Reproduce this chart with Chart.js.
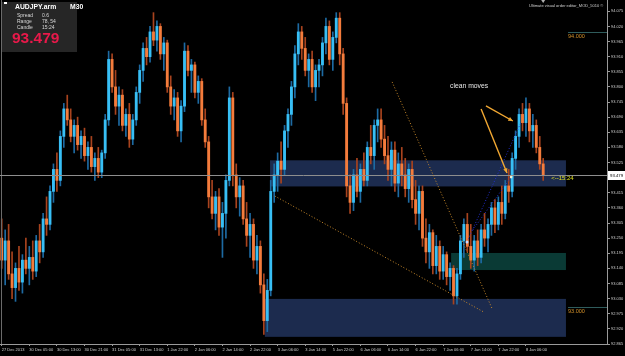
<!DOCTYPE html>
<html>
<head>
<meta charset="utf-8">
<script src="https://cdn.jsdelivr.net/npm/chart.js@4.4.1/dist/chart.umd.min.js"></script>
<style>
  html, body { margin: 0; padding: 0; background: #000; }
  #wrap { position: relative; width: 625px; height: 356px; background: #000; overflow: hidden; }
  #mt4 { position: absolute; left: 0; top: 0; }
  .t { position: absolute; white-space: nowrap; font-family: 'Liberation Sans', Arial, sans-serif; line-height: 1; }
</style>
</head>
<body>
<div id="wrap">
  <canvas id="mt4" width="625" height="356"></canvas>
  <div style="position:absolute;left:2px;top:2px;width:75px;height:50px;background:#262626;"></div>
  <div style="position:absolute;left:4px;top:2px;width:3px;height:2px;background:#fff;"></div>
  <div class="t" style="left:15px;top:4px;font-size:6.8px;font-weight:bold;color:#fff;">AUDJPY.arm</div>
  <div class="t" style="left:70px;top:4px;font-size:6.8px;font-weight:bold;color:#fff;">M30</div>
  <div class="t" style="left:17px;top:12.5px;font-size:5px;color:#d8d8d8;">Spread</div>
  <div class="t" style="left:42px;top:12.5px;font-size:5px;color:#d8d8d8;">0.6</div>
  <div class="t" style="left:17px;top:18.5px;font-size:5px;color:#d8d8d8;">Range</div>
  <div class="t" style="left:42px;top:18.5px;font-size:5px;color:#d8d8d8;">78, 54</div>
  <div class="t" style="left:17px;top:24.5px;font-size:5px;color:#d8d8d8;">Candle</div>
  <div class="t" style="left:42px;top:24.5px;font-size:5px;color:#d8d8d8;">15:24</div>
  <div class="t" style="left:12px;top:30px;font-size:15.5px;font-weight:bold;color:#e8194a;">93.479</div>
  <div class="t" style="left:450px;top:83px;font-size:6.8px;color:#e6e6e6;">clean moves</div>
  <div class="t" style="left:529px;top:4px;font-size:4px;color:#d0d0d0;">Ultimate visual order editor_MOD_5010 &copy;</div>
</div>
<script>
// AUDJPY.arm M30, 27 Dec 2013 - 8 Jan 2014 (one slot = two M30 bars)
const opens = [93.25,93.17,93.24,93.12,93.07,93.14,93.09,93.17,93.14,93.18,93.13,93.24,93.20,93.32,93.30,93.42,93.50,93.46,93.62,93.72,
  93.68,93.62,93.66,93.59,93.62,93.55,93.58,93.51,93.54,93.49,93.56,93.68,93.90,93.80,93.73,93.77,93.66,93.70,93.61,93.68,
  93.78,93.86,93.94,93.91,94.00,93.97,94.02,93.92,93.96,93.80,93.73,93.76,93.64,93.73,93.93,93.86,93.88,93.78,93.82,93.68,
  93.60,93.40,93.34,93.40,93.29,93.34,93.46,93.76,93.48,93.40,93.44,93.32,93.26,93.30,93.17,93.22,93.08,92.95,93.06,93.42,
  93.48,93.53,93.50,93.64,93.70,93.80,93.92,94.00,93.94,93.86,93.90,93.80,93.86,93.88,93.96,94.02,93.90,93.98,94.05,93.92,
  93.74,93.44,93.38,93.48,93.42,93.50,93.46,93.58,93.55,93.66,93.68,93.61,93.55,93.50,93.57,93.45,93.52,93.48,93.43,93.50,
  93.39,93.34,93.42,93.25,93.20,93.27,93.15,93.22,93.13,93.19,93.11,93.14,93.04,93.12,93.24,93.30,93.22,93.17,93.24,93.18,
  93.28,93.25,93.30,93.36,93.30,93.38,93.34,93.44,93.42,93.54,93.62,93.70,93.67,93.72,93.64,93.66,93.58,93.52];
const highs = [93.32,93.28,93.30,93.20,93.16,93.22,93.19,93.25,93.22,93.24,93.26,93.30,93.34,93.40,93.44,93.52,93.56,93.64,93.74,93.77,
  93.72,93.68,93.69,93.64,93.65,93.60,93.62,93.56,93.58,93.57,93.70,93.93,93.92,93.86,93.80,93.79,93.72,93.74,93.70,93.80,
  93.88,93.96,93.98,94.02,94.07,94.04,94.03,93.98,93.97,93.84,93.79,93.78,93.75,93.96,93.95,93.90,93.89,93.84,93.83,93.72,
  93.62,93.46,93.42,93.43,93.38,93.48,93.80,93.78,93.52,93.47,93.46,93.38,93.34,93.32,93.26,93.24,93.12,93.10,93.46,93.52,
  93.56,93.60,93.66,93.72,93.82,93.95,94.03,94.02,93.98,93.92,93.93,93.88,93.90,93.98,94.05,94.04,94.00,94.07,94.07,93.94,
  93.76,93.48,93.50,93.54,93.52,93.56,93.60,93.66,93.68,93.72,93.72,93.66,93.62,93.60,93.60,93.56,93.58,93.54,93.52,93.53,
  93.46,93.44,93.44,93.32,93.30,93.28,93.26,93.24,93.22,93.20,93.16,93.15,93.14,93.26,93.32,93.34,93.30,93.26,93.28,93.30,
  93.34,93.32,93.38,93.39,93.40,93.44,93.46,93.50,93.56,93.64,93.72,93.74,93.76,93.74,93.70,93.68,93.62,93.54];
const lows = [93.14,93.08,93.10,93.03,93.02,93.06,93.05,93.12,93.08,93.10,93.11,93.16,93.18,93.26,93.28,93.38,93.42,93.44,93.58,93.66,
  93.60,93.56,93.57,93.54,93.53,93.50,93.49,93.46,93.47,93.47,93.54,93.66,93.78,93.70,93.66,93.64,93.62,93.58,93.59,93.66,
  93.74,93.82,93.88,93.89,93.95,93.93,93.90,93.86,93.78,93.70,93.68,93.62,93.60,93.71,93.84,93.78,93.76,93.74,93.66,93.58,
  93.36,93.32,93.28,93.26,93.18,93.25,93.44,93.44,93.36,93.33,93.30,93.22,93.18,93.14,93.12,93.05,92.90,92.91,93.04,93.38,
  93.42,93.45,93.48,93.58,93.66,93.76,93.88,93.90,93.84,93.80,93.78,93.75,93.80,93.84,93.92,93.88,93.86,93.96,93.88,93.70,
  93.40,93.34,93.35,93.40,93.38,93.44,93.44,93.52,93.50,93.60,93.58,93.52,93.46,93.44,93.42,93.40,93.44,93.40,93.38,93.36,
  93.30,93.28,93.22,93.16,93.14,93.12,93.12,93.10,93.10,93.08,93.06,93.01,93.01,93.10,93.18,93.20,93.14,93.13,93.15,93.16,
  93.22,93.20,93.26,93.27,93.28,93.30,93.32,93.38,93.40,93.50,93.58,93.64,93.62,93.60,93.58,93.56,93.50,93.46];
const closes = [93.17,93.24,93.12,93.07,93.14,93.09,93.17,93.14,93.18,93.13,93.24,93.20,93.32,93.30,93.42,93.50,93.46,93.62,93.72,93.68,
  93.62,93.66,93.59,93.62,93.55,93.58,93.51,93.54,93.49,93.56,93.68,93.90,93.80,93.73,93.77,93.66,93.70,93.61,93.68,93.78,
  93.86,93.94,93.91,94.00,93.97,94.02,93.92,93.96,93.80,93.73,93.76,93.64,93.73,93.93,93.86,93.88,93.78,93.82,93.68,93.60,
  93.40,93.34,93.40,93.29,93.34,93.46,93.76,93.48,93.40,93.44,93.32,93.26,93.30,93.17,93.22,93.08,92.95,93.06,93.42,93.48,
  93.53,93.50,93.64,93.70,93.80,93.92,94.00,93.94,93.86,93.90,93.80,93.86,93.88,93.96,94.02,93.90,93.98,94.05,93.92,93.74,
  93.44,93.38,93.48,93.42,93.50,93.46,93.58,93.55,93.66,93.68,93.61,93.55,93.50,93.57,93.45,93.52,93.48,93.43,93.50,93.39,
  93.34,93.42,93.25,93.20,93.27,93.15,93.22,93.13,93.19,93.11,93.14,93.04,93.12,93.24,93.30,93.22,93.17,93.24,93.18,93.28,
  93.25,93.30,93.36,93.30,93.38,93.34,93.44,93.42,93.54,93.62,93.70,93.67,93.72,93.64,93.66,93.58,93.52,93.479];

const slotCount = 176;   // empty slots on the right = chart shift
const dateTickIdx = [0,8,16,24,32,40,48,56,64,72,80,88,96,104,112,120,128,136,144,152];
const dateTickText = ["27 Dec 2013","30 Dec 05:00","30 Dec 13:00","30 Dec 21:00","31 Dec 05:00","31 Dec 13:00",
  "1 Jan 22:00","2 Jan 06:00","2 Jan 14:00","2 Jan 22:00","3 Jan 06:00","3 Jan 14:00","5 Jan 22:00","6 Jan 06:00",
  "6 Jan 14:00","6 Jan 22:00","7 Jan 06:00","7 Jan 14:00","7 Jan 22:00","8 Jan 06:00"];
const priceTicks = [92.865,92.920,92.975,93.030,93.085,93.140,93.195,93.250,93.305,93.360,93.415,93.470,
  93.525,93.580,93.635,93.690,93.745,93.800,93.855,93.910,93.965,94.020,94.075];
const bidPrice = 93.479;
const candleTimer = "15:24";

// drawn objects, in (slot, price)
const zoneFrom = [77.8, 76.3, 130.3];
const zoneTo = [163.6, 163.6, 163.6];
const zoneHigh = [93.533, 93.029, 93.196];
const zoneLow = [93.438, 92.891, 93.134];
const levelPrices = [94.0, 93.0];
const levelText = ["94.000", "93.000"];
const levelFrom = 164.2;
const trendLines = [[79.2, 93.403, 139.8, 92.981], [113.2, 93.818, 142.1, 92.996]];
const blueLines = [[134.9, 93.236, 150.6, 93.672], [136.6, 93.280, 147.7, 93.472]];
const arrowLines = [[139.0, 93.720, 146.5, 93.487], [140.4, 93.731, 148.2, 93.676]];

const FONT = "'Liberation Sans', Arial, sans-serif";
const labels = [];
for (let i = 0; i < slotCount; i++) labels.push(i);
const wicks = lows.map((l, i) => [l, highs[i]]);
const bodies = opens.map((o, i) => [o, closes[i]]);
const isUp = i => closes[i] >= opens[i];

const overlay = {
  id: 'overlay',
  beforeDatasetsDraw(chart) {
    const { ctx, scales: { x, y } } = chart;
    const colors = ['#1c2b4e', '#1c2b4e', '#0a3a35'];
    ctx.save();
    zoneFrom.forEach((f, k) => {
      const x0 = x.getPixelForValue(f), x1 = x.getPixelForValue(zoneTo[k]);
      const y0 = y.getPixelForValue(zoneHigh[k]), y1 = y.getPixelForValue(zoneLow[k]);
      ctx.fillStyle = colors[k];
      ctx.fillRect(x0, y0, x1 - x0, y1 - y0);
    });
    ctx.restore();
  },
  afterDatasetsDraw(chart) {
    const { ctx, chartArea: a, scales: { x, y } } = chart;
    const X = v => x.getPixelForValue(v), Y = v => y.getPixelForValue(v);
    ctx.save();
    // left frame
    ctx.strokeStyle = '#6a6a6a';
    ctx.lineWidth = 1;
    ctx.beginPath(); ctx.moveTo(1.5, a.top); ctx.lineTo(1.5, a.bottom); ctx.stroke();
    // bid line
    ctx.strokeStyle = '#8e8e8e';
    ctx.beginPath(); ctx.moveTo(a.left, Math.round(Y(bidPrice)) + 0.5); ctx.lineTo(a.right, Math.round(Y(bidPrice)) + 0.5); ctx.stroke();
    // price levels
    levelPrices.forEach((p, k) => {
      const yy = Math.round(Y(p)) + 0.5;
      ctx.strokeStyle = '#2f5c5c';
      ctx.beginPath(); ctx.moveTo(X(levelFrom), yy); ctx.lineTo(a.right, yy); ctx.stroke();
      ctx.fillStyle = '#d4912a';
      ctx.font = '5.5px ' + FONT;
      ctx.textBaseline = 'top';
      ctx.fillText(levelText[k], X(levelFrom), yy + 1);
    });
    // dotted trend lines
    ctx.setLineDash([1, 2]);
    ctx.strokeStyle = '#c8892a';
    trendLines.forEach(l => {
      ctx.beginPath(); ctx.moveTo(X(l[0]), Y(l[1])); ctx.lineTo(X(l[2]), Y(l[3])); ctx.stroke();
    });
    ctx.strokeStyle = '#2430d0';
    blueLines.forEach(l => {
      ctx.beginPath(); ctx.moveTo(X(l[0]), Y(l[1])); ctx.lineTo(X(l[2]), Y(l[3])); ctx.stroke();
    });
    ctx.setLineDash([]);
    // small markers
    ctx.fillStyle = '#c8d8ff';
    ctx.beginPath(); ctx.arc(X(blueLines[0][0]), Y(blueLines[0][1]), 1.5, 0, Math.PI * 2); ctx.fill();
    ctx.fillStyle = '#f0f0d0';
    ctx.beginPath(); ctx.arc(X(blueLines[1][2]), Y(blueLines[1][3]), 1.3, 0, Math.PI * 2); ctx.fill();
    // arrows
    ctx.strokeStyle = '#f2a832';
    ctx.fillStyle = '#f2a832';
    ctx.lineWidth = 1.4;
    arrowLines.forEach(l => {
      const x0 = X(l[0]), y0 = Y(l[1]), x1 = X(l[2]), y1 = Y(l[3]);
      const ang = Math.atan2(y1 - y0, x1 - x0);
      ctx.beginPath(); ctx.moveTo(x0, y0); ctx.lineTo(x1, y1); ctx.stroke();
      ctx.beginPath();
      ctx.moveTo(x1, y1);
      ctx.lineTo(x1 - 5 * Math.cos(ang - 0.45), y1 - 5 * Math.sin(ang - 0.45));
      ctx.lineTo(x1 - 5 * Math.cos(ang + 0.45), y1 - 5 * Math.sin(ang + 0.45));
      ctx.closePath(); ctx.fill();
    });
    // candle timer
    ctx.fillStyle = '#e0e020';
    ctx.font = '6px ' + FONT;
    ctx.textBaseline = 'middle';
    ctx.fillText('<--' + candleTimer, X(closes.length + 1.3), Y(bidPrice) + 3);
    // chart shift marker
    ctx.fillStyle = '#b0b0b0';
    const sx = X(closes.length - 1);
    ctx.beginPath(); ctx.moveTo(sx - 2, 0); ctx.lineTo(sx + 2, 0); ctx.lineTo(sx, 3); ctx.closePath(); ctx.fill();
    ctx.restore();
  },
  afterDraw(chart) {
    const { ctx, chartArea: a, scales: { y } } = chart;
    const yy = Math.round(y.getPixelForValue(bidPrice));
    ctx.save();
    ctx.fillStyle = '#ffffff';
    ctx.fillRect(a.right + 1, yy - 4, 17, 9);
    ctx.fillStyle = '#000000';
    ctx.font = '4.3px ' + FONT;
    ctx.textBaseline = 'middle';
    ctx.fillText(bidPrice.toFixed(3), a.right + 3, yy + 0.5);
    ctx.restore();
  }
};

new Chart(document.getElementById('mt4'), {
  type: 'bar',
  data: {
    labels: labels,
    datasets: [
      {
        label: 'body',
        data: bodies,
        grouped: false,
        barThickness: 2.2,
        borderWidth: 0,
        backgroundColor: ctx => isUp(ctx.dataIndex) ? '#38bff5' : '#f47c3c'
      },
      {
        label: 'wick',
        data: wicks,
        grouped: false,
        barThickness: 1,
        borderWidth: 0,
        backgroundColor: ctx => isUp(ctx.dataIndex) ? '#1d6aa2' : '#a8431e'
      }
    ]
  },
  options: {
    responsive: false,
    animation: false,
    devicePixelRatio: 1,
    layout: { padding: 0 },
    plugins: { legend: { display: false }, tooltip: { enabled: false } },
    scales: {
      x: {
        offset: true,
        afterFit: ax => { ax.height = 12; ax.paddingLeft = 0; ax.paddingRight = 0; },
        grid: {
          drawOnChartArea: false,
          offset: false,
          tickLength: 2,
          color: ctx => dateTickIdx.includes(ctx.index) ? '#9a9a9a' : 'rgba(0,0,0,0)'
        },
        border: { color: '#9a9a9a' },
        ticks: {
          autoSkip: false,
          maxRotation: 0,
          minRotation: 0,
          align: 'start',
          padding: 1,
          color: '#d0d0d0',
          font: { size: 4, family: FONT },
          callback: (v, i) => {
            const k = dateTickIdx.indexOf(i);
            return k >= 0 ? dateTickText[k] : '';
          }
        }
      },
      y: {
        position: 'right',
        min: 92.865,
        max: 94.116,
        afterBuildTicks: ax => { ax.ticks = priceTicks.map(v => ({ value: v })); },
        afterFit: ax => { ax.width = 18; ax.paddingTop = 0; ax.paddingBottom = 0; },
        grid: { drawOnChartArea: false, tickLength: 3, color: '#9a9a9a' },
        border: { color: '#9a9a9a' },
        ticks: {
          autoSkip: false,
          crossAlign: 'near',
          padding: 1,
          color: '#d0d0d0',
          font: { size: 4, family: FONT },
          callback: v => Number(v).toFixed(3)
        }
      }
    }
  },
  plugins: [overlay]
});
</script>
</body>
</html>
